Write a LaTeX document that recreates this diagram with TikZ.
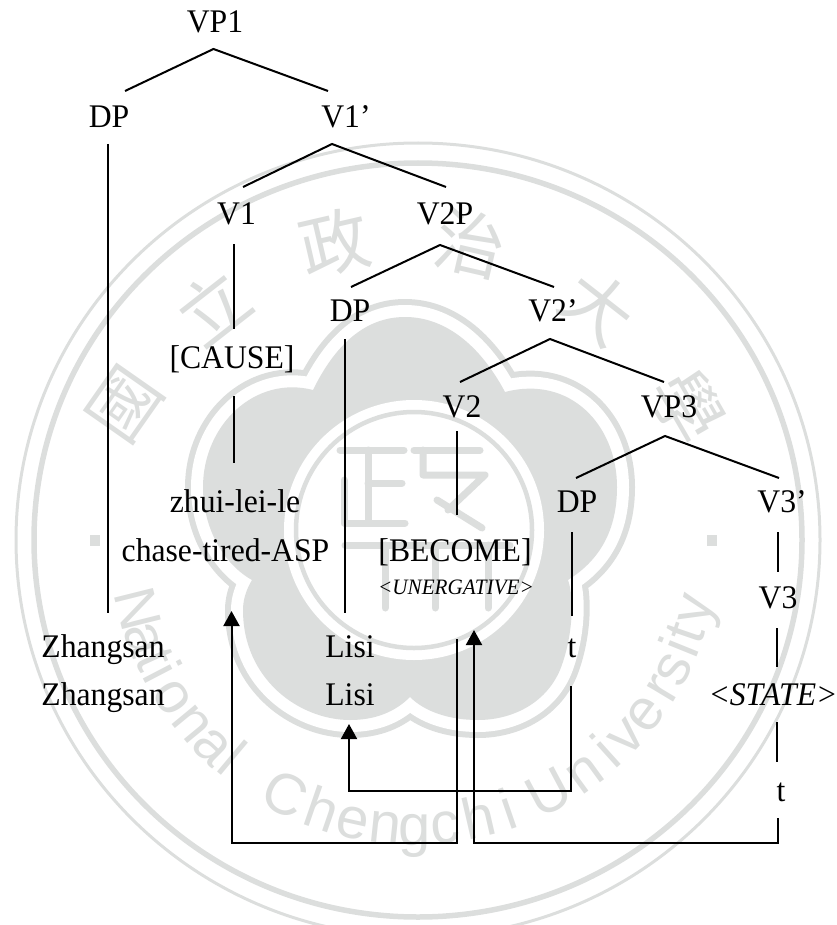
\documentclass[tikz,border=0pt]{standalone}
\usepackage{fontspec}
\setmainfont[FakeStretch=0.96]{Liberation Serif}
\newfontfamily\wmsans{Liberation Sans}
\newfontfamily\wmcjk{Noto Sans CJK TC}
\usetikzlibrary{arrows.meta}
\definecolor{wm}{HTML}{DCDEDD}
\tikzset{
  lab/.style={anchor=base,inner sep=0pt,font=\fontsize{33}{33}\selectfont},
  labit/.style={anchor=base,inner sep=0pt,font=\fontsize{33}{33}\selectfont\itshape},
  labsm/.style={anchor=base,inner sep=0pt,font=\fontsize{22}{22}\selectfont\itshape},
  treeline/.style={draw=black,line width=2pt},
  moveline/.style={draw=black,line width=2pt,line join=miter},
  movearrow/.style={moveline,-{Triangle[length=15pt,width=16pt]}},
  wmchar/.style={text=wm,inner sep=0pt,font=\fontsize{70}{70}\selectfont\wmcjk},
  wmletter/.style={text=wm,inner sep=0pt,anchor=base,font=\fontsize{58}{58}\selectfont\wmsans},
  wmstroke/.style={draw=wm,line width=7pt,line cap=round,line join=round}
}
\newcommand{\flowerpath}{(313,390) .. controls (335,345) and (365,317) .. (405,317)
  .. controls (445,317) and (480,345) .. (505,392)
  .. controls (570,375) and (617,425) .. (617,487)
  .. controls (617,530) and (600,560) .. (568,580)
  .. controls (575,600) and (572,640) .. (560,670)
  .. controls (545,705) and (510,720) .. (478,720)
  .. controls (450,720) and (425,712) .. (410,697)
  .. controls (395,712) and (375,720) .. (350,720)
  .. controls (300,720) and (243,680) .. (243,610)
  .. controls (243,600) and (246,590) .. (252,580)
  .. controls (225,565) and (203,530) .. (203,487)
  .. controls (203,425) and (255,375) .. (313,390) -- cycle}
\begin{document}
\begin{tikzpicture}[x=1pt,y=-1pt]
\useasboundingbox (0,0) rectangle (836,925);
\clip (0,0) rectangle (836,925);
% --- watermark ---
\draw[wm,line width=3pt] (418,540) ellipse [x radius=402,y radius=397];
\draw[wm,line width=5.5pt] (418,540) ellipse [x radius=384,y radius=377];
\draw[wm,line width=36pt,line join=round] \flowerpath;
\draw[white,line width=24pt,line join=round] \flowerpath;
\fill[wm] \flowerpath;
\fill[white] (414,530) circle [radius=130];
\draw[wm,line width=4.5pt] (414,530) circle [radius=118];
% central seal
\draw[wmstroke] (340,450) -- (404,450);
\draw[wmstroke] (368,450) -- (368,520);
\draw[wmstroke] (368,483) -- (402,483);
\draw[wmstroke] (344,480) -- (344,523) -- (405,523);
\draw[wmstroke] (414,450) -- (480,450);
\draw[wmstroke] (423,450) -- (423,475) -- (485,475) -- (448,510);
\draw[wmstroke] (437,500) -- (482,528);
\draw[wmstroke] (345,545) -- (510,545);
\draw[wmstroke] (385,545) -- (385,608);
\draw[wmstroke] (435,545) -- (435,608);
\draw[wmstroke] (488,545) -- (488,608);
% outer characters
\node[wmchar,rotate=55] (wA) at (125,405) {國};
\node[wmchar,rotate=38] (wB) at (213,307) {立};
\node[wmchar,rotate=13] (wC) at (335,243) {政};
\node[wmchar,rotate=-13] (wD) at (471,243) {治};
\node[wmchar,rotate=-38] (wE) at (598,307) {大};
\node[wmchar,rotate=-60] (wF) at (688,407) {學};
% curved name
\foreach \ch/\ang in {N/76,a/70,t/65.5,i/62.5,o/57,n/50.5,a/44.5,l/40,C/27,h/19,e/12.5,n/6,g/0,c/-6,h/-13,i/-19,U/-28,n/-36,i/-42,v/-47,e/-53,r/-59,s/-63.5,i/-68,t/-71,y/-76}{
  \node[wmletter,rotate=-\ang] at ({415-305*sin(\ang)},{540+305*cos(\ang)}) {\ch};
}
\fill[wm] (90,535) rectangle (100,546);
\fill[wm] (707,535) rectangle (717,546);
% --- labels ---
\node[lab] (vp1) at (215,33) {VP1};
\node[lab] (dp1) at (109,128) {DP};
\node[lab] (v1b) at (346,128) {V1’};
\node[lab] (v1) at (236.5,225) {V1};
\node[lab] (v2p) at (445,225) {V2P};
\node[lab] (dp2) at (350,321) {DP};
\node[lab] (v2b) at (553,321) {V2’};
\node[lab] (cause) at (232,368) {[CAUSE]};
\node[lab] (v2) at (462,417) {V2};
\node[lab] (vp3) at (669,417) {VP3};
\node[lab] (dp3) at (577,512) {DP};
\node[lab] (v3b) at (782,512) {V3’};
\node[lab] (zhui) at (235,512) {zhui-lei-le};
\node[lab] (chase) at (225.5,561) {chase-tired-ASP};
\node[lab] (become) at (455,561) {[BECOME]};
\node[labsm] (unerg) at (456,594) {<UNERGATIVE>};
\node[lab] (v3) at (778,608) {V3};
\node[lab] (zs1) at (103,657) {Zhangsan};
\node[lab] (zs2) at (103,705) {Zhangsan};
\node[lab] (ls1) at (350,657) {Lisi};
\node[lab] (ls2) at (350,705) {Lisi};
\node[lab] (t1) at (572,657) {t};
\node[labit] (state) at (773,705) {<STATE>};
\node[lab] (t2) at (781,801) {t};
% --- connector ends ---
\coordinate (a1) at (213.5,49);
\coordinate (a1l) at (125,91);
\coordinate (a1r) at (328,91);
\coordinate (a2) at (332,144);
\coordinate (a2l) at (243,187);
\coordinate (a2r) at (446,187);
\coordinate (a3) at (440,245);
\coordinate (a3l) at (351,287);
\coordinate (a3r) at (554,287);
\coordinate (a4) at (550,339);
\coordinate (a4l) at (460,382);
\coordinate (a4r) at (664,382);
\coordinate (a5) at (665,436);
\coordinate (a5l) at (576,478);
\coordinate (a5r) at (779,478);
\coordinate (b1t) at (107.5,144);
\coordinate (b1b) at (107.5,613);
\coordinate (b2t) at (233.5,244);
\coordinate (b2b) at (233.5,329);
\coordinate (b3t) at (233.5,396);
\coordinate (b3b) at (233.5,463);
\coordinate (b4t) at (345,339);
\coordinate (b4b) at (345,613);
\coordinate (b5t) at (457,431);
\coordinate (b5b) at (457,515);
\coordinate (b6t) at (572,532);
\coordinate (b6b) at (572,616);
\coordinate (b7t) at (778,532);
\coordinate (b7b) at (778,572);
\coordinate (b8t) at (777,628);
\coordinate (b8b) at (777,667);
\coordinate (b9t) at (777,722);
\coordinate (b9b) at (777,762);
\coordinate (m1s) at (778,818);
\coordinate (m1c) at (778,843);
\coordinate (m1d) at (474,843);
\coordinate (m1e) at (474,630);
\coordinate (m2s) at (457,639);
\coordinate (m2c) at (457,843);
\coordinate (m2d) at (231.5,843);
\coordinate (m2e) at (231.5,611);
\coordinate (m3s) at (570.5,686);
\coordinate (m3c) at (570.5,791);
\coordinate (m3d) at (349,791);
\coordinate (m3e) at (349,724);
% --- tree lines ---
\draw[treeline] (a1l) -- (a1) -- (a1r);
\draw[treeline] (a2l) -- (a2) -- (a2r);
\draw[treeline] (a3l) -- (a3) -- (a3r);
\draw[treeline] (a4l) -- (a4) -- (a4r);
\draw[treeline] (a5l) -- (a5) -- (a5r);
\draw[treeline] (b1t) -- (b1b);
\draw[treeline] (b2t) -- (b2b);
\draw[treeline] (b3t) -- (b3b);
\draw[treeline] (b4t) -- (b4b);
\draw[treeline] (b5t) -- (b5b);
\draw[treeline] (b6t) -- (b6b);
\draw[treeline] (b7t) -- (b7b);
\draw[treeline] (b8t) -- (b8b);
\draw[treeline] (b9t) -- (b9b);
% --- movement arrows ---
\draw[movearrow] (m1s) -- (m1c) -- (m1d) -- (m1e);
\draw[movearrow] (m2s) -- (m2c) -- (m2d) -- (m2e);
\draw[movearrow] (m3s) -- (m3c) -- (m3d) -- (m3e);
\end{tikzpicture}
\end{document}
